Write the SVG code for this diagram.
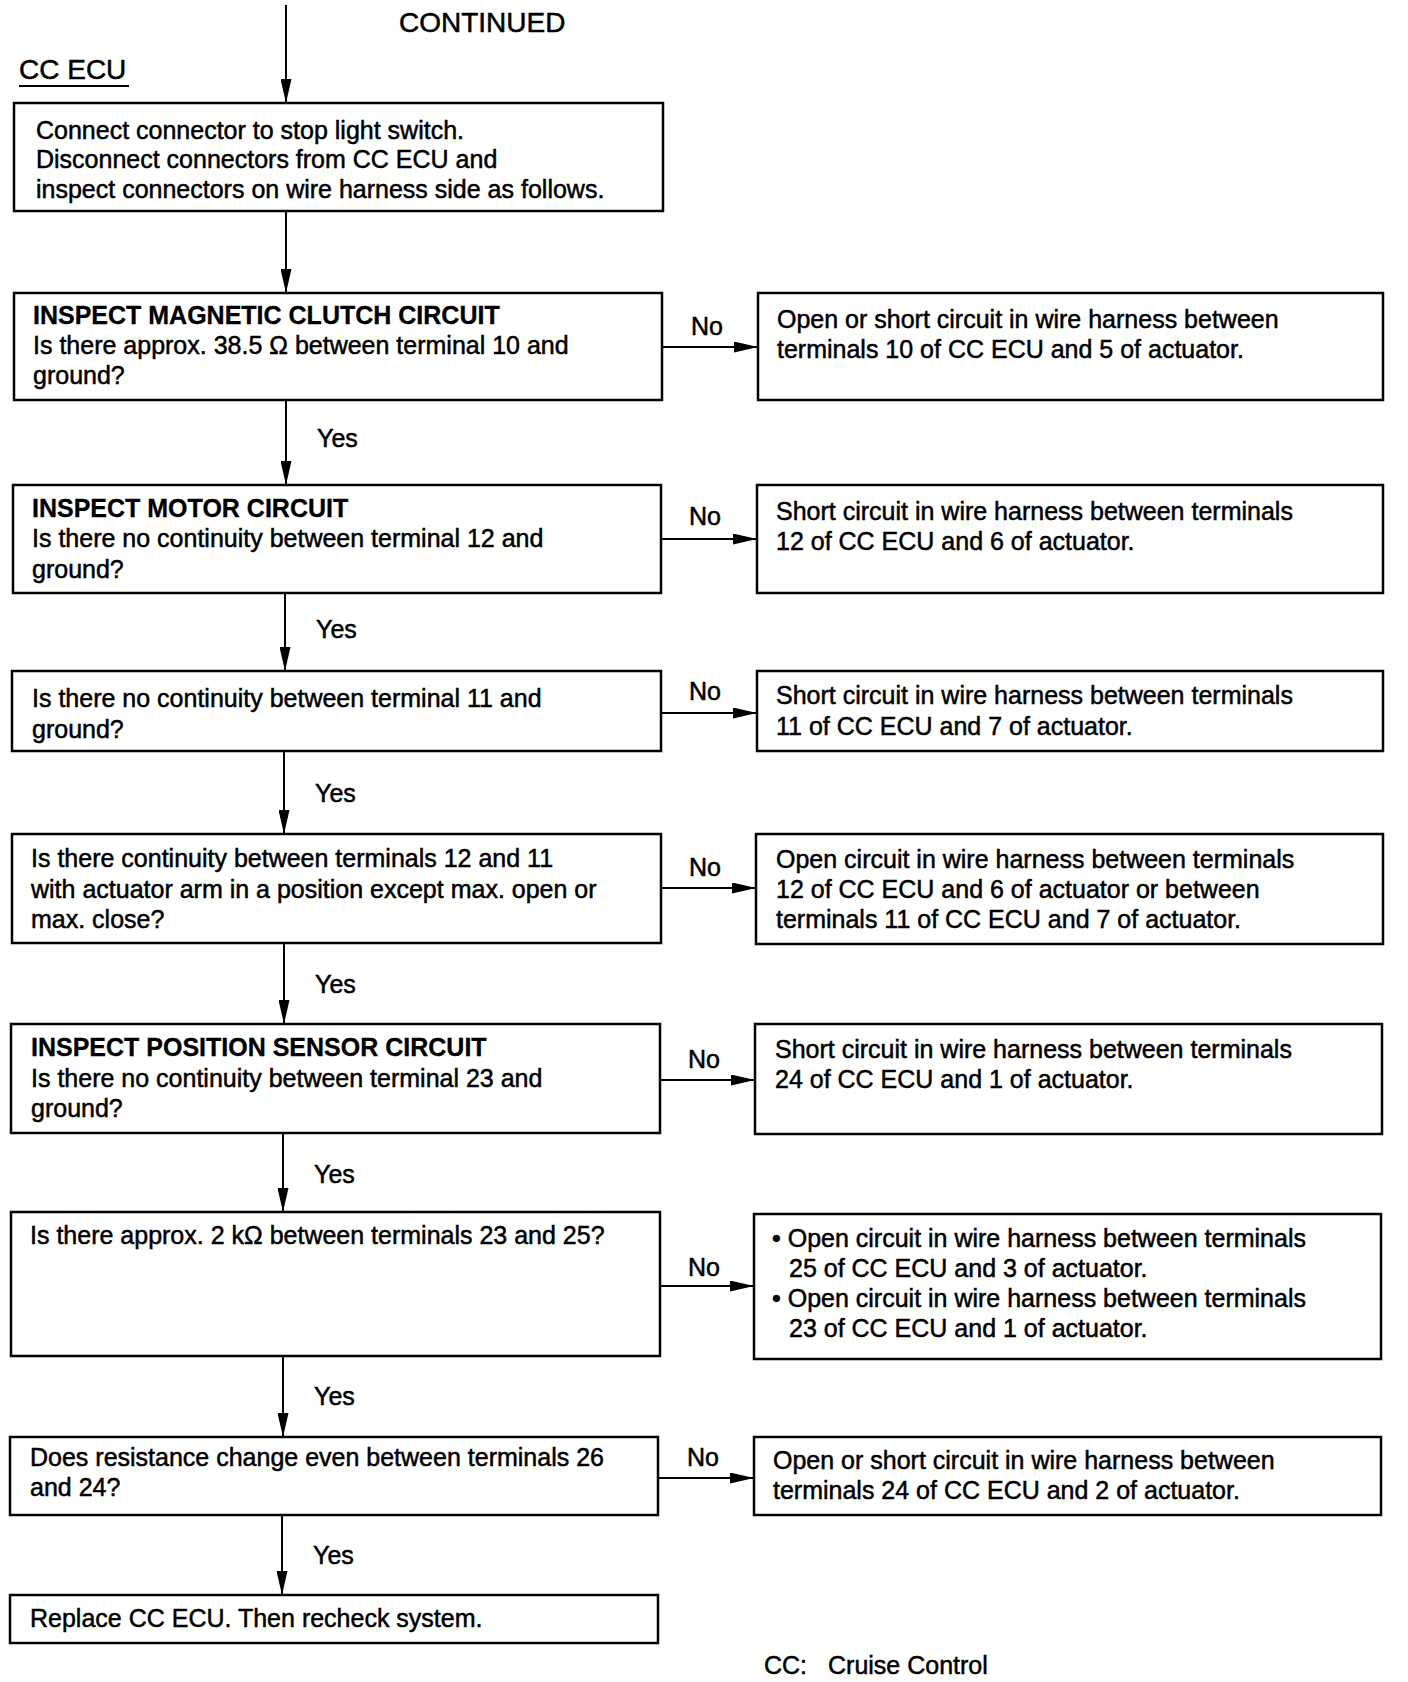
<svg xmlns="http://www.w3.org/2000/svg" width="1408" height="1682" viewBox="0 0 1408 1682">
<style>
text{font-family:"Liberation Sans",Arial,Helvetica,sans-serif;font-size:25px;fill:#000;stroke:#000;stroke-width:0.5}
.b{font-weight:bold;stroke-width:0.3}
.t{font-size:28px}
.box{fill:#fff;stroke:#000;stroke-width:2.5}
.conn line{stroke:#000;stroke-width:2}
</style>
<defs>
<marker id="ah" markerUnits="userSpaceOnUse" markerWidth="24" markerHeight="11" refX="24" refY="5.5" orient="auto">
<path d="M0,0 L24,5.5 L0,11 z" fill="#000"/>
</marker>
</defs>
<rect width="1408" height="1682" fill="#fff"/>
<text class="t" x="399" y="32">CONTINUED</text>
<g id="title"><text class="t" x="19" y="79">CC ECU</text><line x1="19" y1="86" x2="129" y2="86" stroke="#000" stroke-width="2"/></g>

<g class="conn">
<line x1="286" y1="5" x2="286" y2="103" marker-end="url(#ah)"/>
<line x1="286" y1="211" x2="286" y2="293" marker-end="url(#ah)"/>
<line x1="286" y1="400" x2="286" y2="485" marker-end="url(#ah)"/>
<line x1="285" y1="593" x2="285" y2="671" marker-end="url(#ah)"/>
<line x1="284" y1="751" x2="284" y2="834" marker-end="url(#ah)"/>
<line x1="284" y1="943" x2="284" y2="1024" marker-end="url(#ah)"/>
<line x1="283" y1="1133" x2="283" y2="1212" marker-end="url(#ah)"/>
<line x1="283" y1="1356" x2="283" y2="1437" marker-end="url(#ah)"/>
<line x1="282" y1="1515" x2="282" y2="1595" marker-end="url(#ah)"/>
<line x1="662" y1="347" x2="758" y2="347" marker-end="url(#ah)"/>
<line x1="661" y1="539" x2="757" y2="539" marker-end="url(#ah)"/>
<line x1="661" y1="713" x2="757" y2="713" marker-end="url(#ah)"/>
<line x1="661" y1="888" x2="756" y2="888" marker-end="url(#ah)"/>
<line x1="660" y1="1080" x2="755" y2="1080" marker-end="url(#ah)"/>
<line x1="660" y1="1286" x2="754" y2="1286" marker-end="url(#ah)"/>
<line x1="658" y1="1478" x2="754" y2="1478" marker-end="url(#ah)"/>
<text x="317" y="447">Yes</text>
<text x="316" y="638">Yes</text>
<text x="315" y="802">Yes</text>
<text x="315" y="993">Yes</text>
<text x="314" y="1183">Yes</text>
<text x="314" y="1405">Yes</text>
<text x="313" y="1564">Yes</text>
<text x="691" y="335">No</text>
<text x="689" y="525">No</text>
<text x="689" y="700">No</text>
<text x="689" y="876">No</text>
<text x="688" y="1068">No</text>
<text x="688" y="1276">No</text>
<text x="687" y="1466">No</text>
</g>

<g id="n1"><rect class="box" x="14" y="103" width="649" height="108"/>
<text x="36" y="139">Connect connector to stop light switch.</text>
<text x="36" y="168">Disconnect connectors from CC ECU and</text>
<text x="36" y="198">inspect connectors on wire harness side as follows.</text></g>

<g id="n2"><rect class="box" x="14" y="293" width="648" height="107"/>
<text class="b" x="33" y="324">INSPECT MAGNETIC CLUTCH CIRCUIT</text>
<text x="33" y="354">Is there approx. 38.5 Ω between terminal 10 and</text>
<text x="33" y="384">ground?</text></g>
<g id="r2"><rect class="box" x="758" y="293" width="625" height="107"/>
<text x="777" y="328">Open or short circuit in wire harness between</text>
<text x="777" y="358">terminals 10 of CC ECU and 5 of actuator.</text></g>

<g id="n3"><rect class="box" x="13" y="485" width="648" height="108"/>
<text class="b" x="32" y="517">INSPECT MOTOR CIRCUIT</text>
<text x="32" y="547">Is there no continuity between terminal 12 and</text>
<text x="32" y="578">ground?</text></g>
<g id="r3"><rect class="box" x="757" y="485" width="626" height="108"/>
<text x="776" y="520">Short circuit in wire harness between terminals</text>
<text x="776" y="550">12 of CC ECU and 6 of actuator.</text></g>

<g id="n4"><rect class="box" x="12" y="671" width="649" height="80"/>
<text x="32" y="707">Is there no continuity between terminal 11 and</text>
<text x="32" y="738">ground?</text></g>
<g id="r4"><rect class="box" x="757" y="671" width="626" height="80"/>
<text x="776" y="704">Short circuit in wire harness between terminals</text>
<text x="776" y="735">11 of CC ECU and 7 of actuator.</text></g>

<g id="n5"><rect class="box" x="12" y="834" width="649" height="109"/>
<text x="31" y="867">Is there continuity between terminals 12 and 11</text>
<text x="31" y="898">with actuator arm in a position except max. open or</text>
<text x="31" y="928">max. close?</text></g>
<g id="r5"><rect class="box" x="756" y="834" width="627" height="110"/>
<text x="776" y="868">Open circuit in wire harness between terminals</text>
<text x="776" y="898">12 of CC ECU and 6 of actuator or between</text>
<text x="776" y="928">terminals 11 of CC ECU and 7 of actuator.</text></g>

<g id="n6"><rect class="box" x="11" y="1024" width="649" height="109"/>
<text class="b" x="31" y="1056">INSPECT POSITION SENSOR CIRCUIT</text>
<text x="31" y="1087">Is there no continuity between terminal 23 and</text>
<text x="31" y="1117">ground?</text></g>
<g id="r6"><rect class="box" x="755" y="1024" width="627" height="110"/>
<text x="775" y="1058">Short circuit in wire harness between terminals</text>
<text x="775" y="1088">24 of CC ECU and 1 of actuator.</text></g>

<g id="n7"><rect class="box" x="11" y="1212" width="649" height="144"/>
<text x="30" y="1244">Is there approx. 2 kΩ between terminals 23 and 25?</text></g>
<g id="r7"><rect class="box" x="754" y="1214" width="627" height="145"/>
<text x="772" y="1247">• Open circuit in wire harness between terminals</text>
<text x="789" y="1277">25 of CC ECU and 3 of actuator.</text>
<text x="772" y="1307">• Open circuit in wire harness between terminals</text>
<text x="789" y="1337">23 of CC ECU and 1 of actuator.</text></g>

<g id="n8"><rect class="box" x="10" y="1437" width="648" height="78"/>
<text x="30" y="1466">Does resistance change even between terminals 26</text>
<text x="30" y="1496">and 24?</text></g>
<g id="r8"><rect class="box" x="754" y="1437" width="627" height="78"/>
<text x="773" y="1469">Open or short circuit in wire harness between</text>
<text x="773" y="1499">terminals 24 of CC ECU and 2 of actuator.</text></g>

<g id="n9"><rect class="box" x="10" y="1595" width="648" height="48"/>
<text x="30" y="1627">Replace CC ECU. Then recheck system.</text></g>

<g id="legend"><text x="764" y="1674">CC:</text><text x="828" y="1674">Cruise Control</text></g>
</svg>
